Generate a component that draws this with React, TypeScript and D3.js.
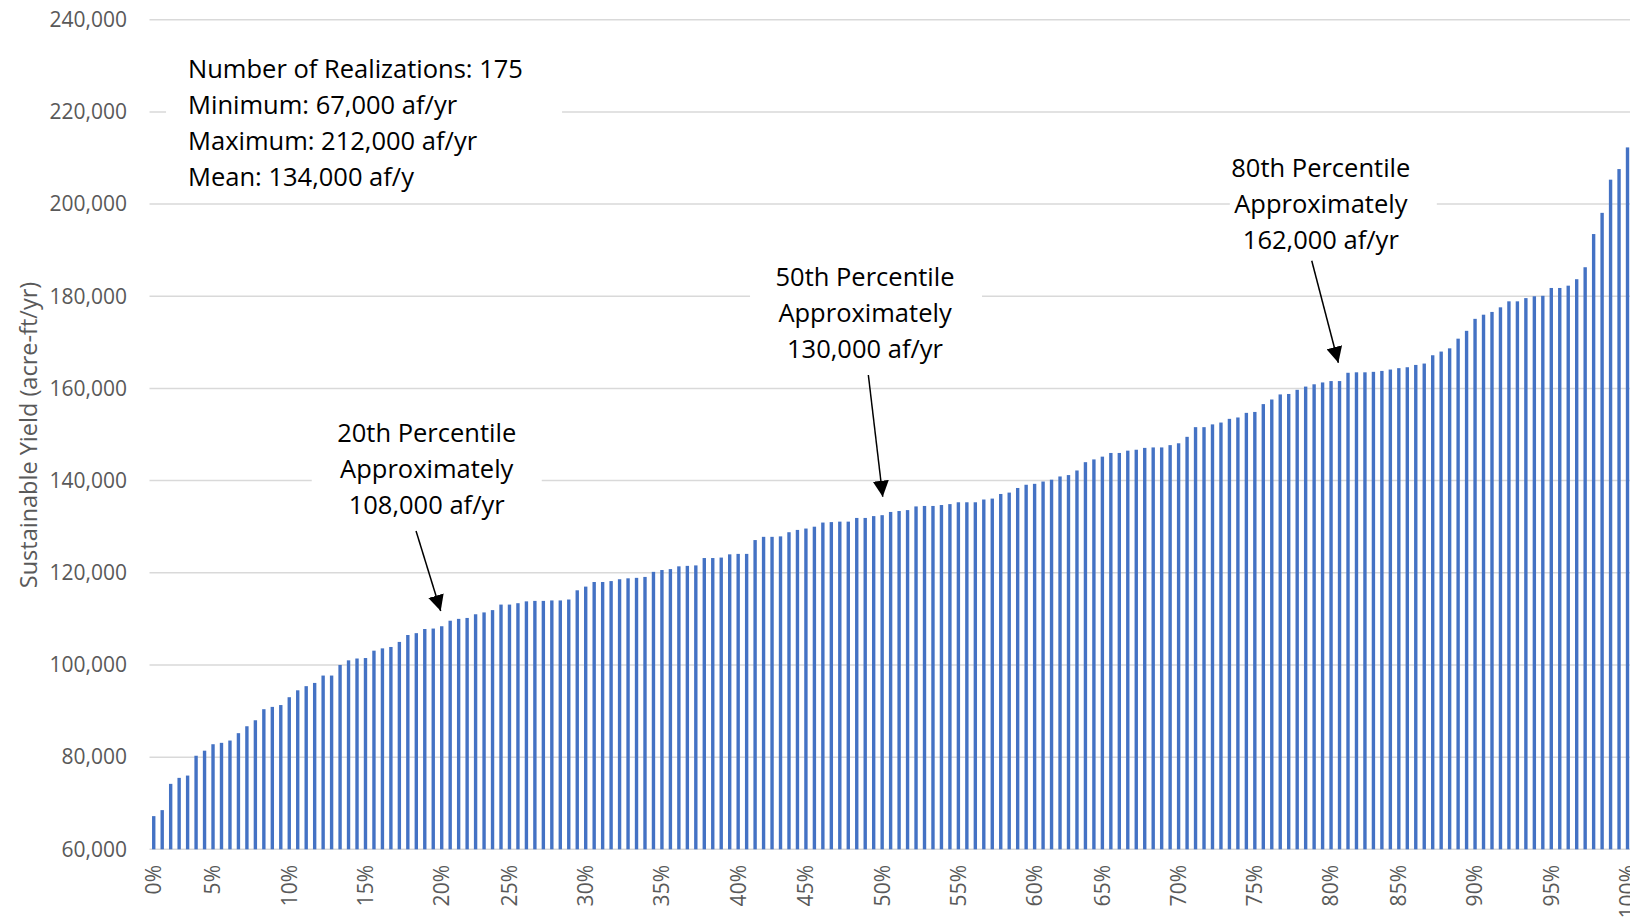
import React from 'react';
import * as d3 from 'd3';

// sorted sustainable yield of each realization (af/yr)
const yieldValues = [
  67200, 68500, 74200, 75500, 76000, 80300, 81400, 82800, 83100, 83600,
  85200, 86700, 88000, 90400, 90900, 91300, 93000, 94500, 95400, 96100,
  97700, 97700, 100000, 101000, 101400, 101500, 103100, 103600, 103900, 105000,
  106500, 106900, 107800, 107900, 108400, 109600, 110000, 110200, 111000, 111400,
  111900, 113100, 113100, 113400, 113800, 113900, 113900, 114000, 114000, 114200,
  116200, 117000, 118000, 118000, 118200, 118600, 118800, 118900, 119100, 120200,
  120600, 120800, 121400, 121500, 121600, 123200, 123200, 123300, 124000, 124100,
  124100, 127100, 127800, 127800, 127900, 128800, 129300, 129600, 130000, 130900,
  131000, 131100, 131100, 131900, 131900, 132300, 132500, 133200, 133400, 133600,
  134400, 134500, 134500, 134700, 134900, 135300, 135300, 135300, 135900, 136100,
  137100, 137400, 138400, 139100, 139300, 139800, 140200, 140900, 141200, 142200,
  144000, 144600, 145200, 146000, 146000, 146500, 146700, 147100, 147200, 147200,
  147700, 148100, 149500, 151600, 151600, 152200, 152600, 153400, 153700, 154700,
  154900, 156600, 157600, 158700, 158800, 159700, 160400, 160900, 161300, 161600,
  161600, 163400, 163500, 163500, 163600, 163800, 164100, 164400, 164600, 165100,
  165400, 167200, 168000, 168700, 170800, 172500, 175100, 176000, 176600, 177600,
  178900, 178900, 179600, 180000, 180100, 181800, 181800, 182300, 183700, 186300,
  193500, 198100, 205300, 207600, 212300,
];

const xTickPercents = [0, 5, 10, 15, 20, 25, 30, 35, 40, 45, 50, 55, 60, 65, 70, 75, 80, 85, 90, 95, 100];
const yTickValues = [60000, 80000, 100000, 120000, 140000, 160000, 180000, 200000, 220000, 240000];

const statsLines = [
  'Number of Realizations: 175',
  'Minimum: 67,000 af/yr',
  'Maximum: 212,000 af/yr',
  'Mean: 134,000 af/y',
];

// callouts placed in data space: bar index (fractional) and yield
const callouts = [
  { lines: ['20th Percentile', 'Approximately', '108,000 af/yr'], cx: 32.23, cy: 150325, box: [-115, 115], from: [30.97, 129059], to: [33.88, 111699] },
  { lines: ['50th Percentile', 'Approximately', '130,000 af/yr'], cx: 83.98, cy: 184242, box: [-115, 117], from: [84.37, 162911], to: [86.07, 136502] },
  { lines: ['80th Percentile', 'Approximately', '162,000 af/yr'], cx: 137.79, cy: 207765, box: [-91, 116], from: [136.72, 187714], to: [139.86, 165580] },
];

const W = 1630;
const H = 919;
const FONT = "'Open Sans', 'Noto Sans', sans-serif";
const GRID = '#d9d9d9';
const AXIS_TEXT = '#595959';
const BAR = '#4472c4';
const LINE_H = 36;

export default function App() {
  const n = yieldValues.length;
  const plotLeft = 149.5;
  const step = 8.47;

  const x = d3.scaleBand<number>()
    .domain(d3.range(n))
    .range([plotLeft, plotLeft + n * step])
    .paddingInner(0.6)
    .paddingOuter(0.3);

  const y = d3.scaleLinear().domain([60000, 240000]).range([849.3, 19.75]);

  const xAt = (i: number) => (x(0) as number) + x.bandwidth() / 2 + i * x.step();
  const fmt = d3.format(',');

  // last bar at or below each 5% mark gets the label
  const tickIndex = (p: number) => Math.max(0, Math.floor((p * n) / 100) - 1);

  const statsX = xAt(4.05);
  const statsY = y(229400);

  return (
    <svg width={W} height={H} style={{ position: 'absolute', left: 0, top: 0, background: '#fff' }} fontFamily={FONT}>
      <defs>
        <marker id="tri" viewBox="0 0 10 10" refX="10" refY="5" markerWidth="16" markerHeight="16" markerUnits="userSpaceOnUse" orient="auto">
          <path d="M0,0 L10,5 L0,10 Z" fill="#000" />
        </marker>
      </defs>

      {/* gridlines */}
      {yTickValues.map((v) => (
        <line key={v} x1={plotLeft} x2={plotLeft + n * step} y1={y(v)} y2={y(v)} stroke={GRID} strokeWidth={1.5} />
      ))}

      {/* y tick labels */}
      {yTickValues.map((v) => (
        <text key={'yl' + v} x={127} y={y(v)} dy="0.35em" textAnchor="end" fontSize={21} fill={AXIS_TEXT}>
          {fmt(v)}
        </text>
      ))}

      <text transform={`translate(29, 435) rotate(-90)`} dy="0.35em" textAnchor="middle" fontSize={23.5} fill={AXIS_TEXT}>
        Sustainable Yield (acre-ft/yr)
      </text>

      {/* bars */}
      {yieldValues.map((v, i) => (
        <rect key={i} x={x(i)} y={y(v)} width={x.bandwidth()} height={y(60000) - y(v)} fill={BAR} />
      ))}

      {/* x tick labels */}
      {xTickPercents.map((p) => (
        <text key={'xl' + p} transform={`translate(${xAt(tickIndex(p))}, 865) rotate(-90)`} dy="0.35em" textAnchor="end" fontSize={21} fill={AXIS_TEXT}>
          {p + '%'}
        </text>
      ))}

      {/* stats text box */}
      <rect x={statsX - 22} y={statsY - 24} width={396} height={LINE_H * 3 + 48} fill="#fff" />
      {statsLines.map((t, k) => (
        <text key={t} x={statsX} y={statsY + k * LINE_H} dy="0.36em" fontSize={25.5} fill="#000">
          {t}
        </text>
      ))}

      {/* percentile callouts */}
      {callouts.map((c) => {
        const cx = xAt(c.cx);
        const cy = y(c.cy);
        return (
          <g key={c.lines[0]}>
            <rect x={cx + c.box[0]} y={cy - 22} width={c.box[1] - c.box[0]} height={LINE_H * 2 + 44} fill="#fff" />
            {c.lines.map((t, k) => (
              <text key={t} x={cx} y={cy + k * LINE_H} dy="0.36em" textAnchor="middle" fontSize={25.5} fill="#000">
                {t}
              </text>
            ))}
            <line x1={xAt(c.from[0])} y1={y(c.from[1])} x2={xAt(c.to[0])} y2={y(c.to[1])} stroke="#000" strokeWidth={1.5} markerEnd="url(#tri)" />
          </g>
        );
      })}
    </svg>
  );
}
